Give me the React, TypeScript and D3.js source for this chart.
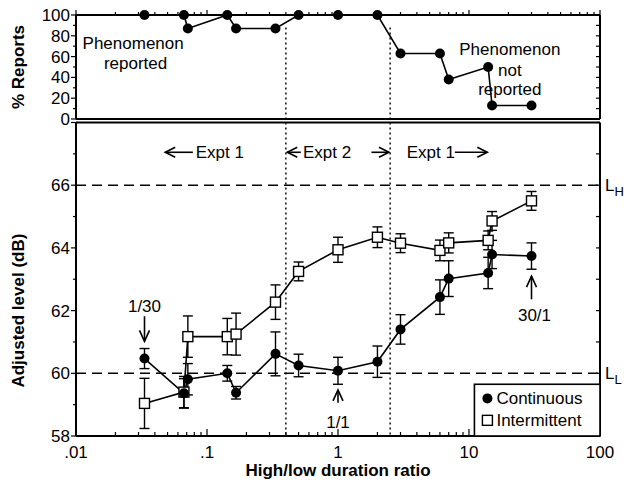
import * as d3 from 'd3'

const ratios = [1 / 30, 1 / 15, 1 / 14, 1 / 7, 1 / 6, 1 / 3, 1 / 2, 1, 2, 3, 6, 7, 14, 15, 30]
const reports = [100, 100, 87, 100, 87, 87, 100, 100, 100, 63, 63, 38, 50, 13, 13]
const continuous = [60.47, 59.36, 59.81, 60.0, 59.38, 60.62, 60.25, 60.08, 60.37, 61.4, 62.43, 63.02, 63.2, 63.79, 63.74]
const continuousErr = [0.32, 0.47, 0.5, 0.25, 0.2, 0.7, 0.36, 0.43, 0.5, 0.47, 0.55, 0.57, 0.5, 0.45, 0.42]
const intermittent = [59.04, 59.4, 61.17, 61.17, 61.25, 62.27, 63.25, 63.94, 64.34, 64.15, 63.92, 64.16, 64.24, 64.86, 65.5]
const intermittentErr = [0.8, 0.5, 0.66, 0.58, 0.67, 0.55, 0.3, 0.4, 0.33, 0.3, 0.33, 0.32, 0.3, 0.3, 0.3]
const xTicks = [0.01, 0.1, 1, 10, 100]
const xTickLabels = ['.01', '.1', '1', '10', '100']
const reportTicks = [0, 20, 40, 60, 80, 100]
const levelTicks = [58, 60, 62, 64, 66]
const exptBounds = [0.4, 2.5]
const refLevels = [60, 66]

const W = 629
const H = 485
const font = '"Liberation Sans", Arial, sans-serif'

export default function App() {
  const x = d3.scaleLog().domain([0.01, 100]).range([76, 600])
  const yTop = d3.scaleLinear().domain([0, 100]).range([119, 15])
  const yBot = d3.scaleLinear().domain([58, 68]).range([436, 122.5])

  const minorX: number[] = []
  for (let p = -2; p < 2; p++) {
    for (let k = 2; k <= 9; k++) minorX.push(k * Math.pow(10, p))
  }
  const topLine = d3.line<number>().x((_, i) => x(ratios[i])).y((d) => yTop(d))
  const botLine = d3.line<number>().x((_, i) => x(ratios[i])).y((d) => yBot(d))

  const errBars = (vals: number[], errs: number[]) =>
    vals.map((v, i) => {
      const cx = x(ratios[i])
      const y1 = yBot(v + errs[i])
      const y2 = yBot(v - errs[i])
      return (
        <g key={i}>
          <line x1={cx} x2={cx} y1={y1} y2={y2} />
          <line x1={cx - 5} x2={cx + 5} y1={y1} y2={y1} />
          <line x1={cx - 5} x2={cx + 5} y1={y2} y2={y2} />
        </g>
      )
    })

  const arrow = (cx: number, tip: number, tail: number) => {
    const dir = tail > tip ? 1 : -1
    return (
      <g stroke="#000" strokeWidth={1.6} fill="none">
        <line x1={cx} x2={cx} y1={tip} y2={tail} />
        <polyline points={`${cx - 5},${tip + dir * 11} ${cx},${tip} ${cx + 5},${tip + dir * 11}`} />
      </g>
    )
  }

  const hArrow = (x1: number, x2: number, y: number) => {
    const dir = x2 > x1 ? -1 : 1
    return (
      <g stroke="#000" strokeWidth={1.6} fill="none">
        <line x1={x1} x2={x2} y1={y} y2={y} />
        <polyline points={`${x2 + dir * 10},${y - 5} ${x2},${y} ${x2 + dir * 10},${y + 5}`} />
      </g>
    )
  }

  const exptY = yBot(67.05)

  return (
    <svg width={W} height={H} style={{ position: 'absolute', left: 0, top: 0, background: '#fff' }} fontFamily={font}>
      <rect width={W} height={H} fill="#fff" />

      {/* top panel frame */}
      <g stroke="#000" strokeWidth={2} fill="none">
        <line x1={x(0.01)} x2={x(100)} y1={yTop(100)} y2={yTop(100)} />
        <line x1={x(0.01)} x2={x(100)} y1={yTop(0)} y2={yTop(0)} />
        <line x1={x(0.01)} x2={x(0.01)} y1={yTop(100)} y2={yTop(0)} />
        <line x1={x(100)} x2={x(100)} y1={yTop(100)} y2={yTop(0)} />
      </g>
      {/* bottom panel frame */}
      <g stroke="#000" strokeWidth={2} fill="none">
        <line x1={x(0.01)} x2={x(100)} y1={yBot(68)} y2={yBot(68)} />
        <line x1={x(0.01)} x2={x(100)} y1={yBot(58)} y2={yBot(58)} />
        <line x1={x(0.01)} x2={x(0.01)} y1={yBot(68)} y2={yBot(58)} />
        <line x1={x(100)} x2={x(100)} y1={yBot(68)} y2={yBot(58)} />
      </g>

      {/* ticks */}
      <g stroke="#000" strokeWidth={1.2}>
        {minorX.map((v) => (
          <g key={v}>
            <line x1={x(v)} x2={x(v)} y1={yBot(58)} y2={yBot(58) - 4} />
            <line x1={x(v)} x2={x(v)} y1={yTop(100)} y2={yTop(100) - 3} />
          </g>
        ))}
        {xTicks.map((v) => (
          <g key={v}>
            <line x1={x(v)} x2={x(v)} y1={yBot(58)} y2={yBot(58) - 7} />
            <line x1={x(v)} x2={x(v)} y1={yTop(100)} y2={yTop(100) - 5} />
          </g>
        ))}
        {d3.range(0, 101, 10).map((v) => (
          <g key={v}>
            <line x1={x(0.01)} x2={x(0.01) - (v % 20 === 0 ? 5 : 3)} y1={yTop(v)} y2={yTop(v)} />
            <line x1={x(100)} x2={x(100) - 4} y1={yTop(v)} y2={yTop(v)} />
          </g>
        ))}
        {d3.range(58, 68.1, 1).map((v) => (
          <g key={v}>
            <line x1={x(0.01)} x2={x(0.01) - (v % 2 === 0 ? 5 : 3)} y1={yBot(v)} y2={yBot(v)} />
            <line x1={x(100)} x2={x(100) - 4} y1={yBot(v)} y2={yBot(v)} />
          </g>
        ))}
      </g>

      {/* tick labels */}
      <g fontSize={17} fill="#000">
        {reportTicks.map((v) => (
          <text key={v} x={x(0.01) - 6} y={yTop(v)} dy="0.35em" textAnchor="end">{v}</text>
        ))}
        {levelTicks.map((v) => (
          <text key={v} x={x(0.01) - 6} y={yBot(v)} dy="0.35em" textAnchor="end">{v}</text>
        ))}
        {xTicks.map((v, i) => (
          <text key={v} x={x(v)} y={yBot(58) + 16} dy="0.35em" textAnchor="middle">{xTickLabels[i]}</text>
        ))}
      </g>

      {/* axis titles */}
      <g fontSize={17} fontWeight="bold" fill="#000" textAnchor="middle">
        <text transform={`translate(24,${yTop(50)}) rotate(-90)`}>% Reports</text>
        <text transform={`translate(24,${yBot(62)}) rotate(-90)`}>Adjusted level (dB)</text>
        <text x={x(1)} y={yBot(58) + 40}>High/low duration ratio</text>
      </g>

      {/* reference lines */}
      <g stroke="#000" strokeWidth={1.6} strokeDasharray="10,6">
        {refLevels.map((v) => (
          <line key={v} x1={x(0.01)} x2={x(100)} y1={yBot(v)} y2={yBot(v)} />
        ))}
      </g>
      <g stroke="#000" strokeWidth={1.4} strokeDasharray="2,3">
        {exptBounds.map((v) => (
          <g key={v}>
            <line x1={x(v)} x2={x(v)} y1={yTop(88)} y2={yTop(0)} />
            <line x1={x(v)} x2={x(v)} y1={yBot(68)} y2={yBot(58)} />
          </g>
        ))}
      </g>
      <g fontSize={17} fill="#000">
        <text x={x(100) + 5} y={yBot(66)} dy="0.35em">L<tspan fontSize={13} dy="5">H</tspan></text>
        <text x={x(100) + 5} y={yBot(60)} dy="0.35em">L<tspan fontSize={13} dy="5">L</tspan></text>
      </g>

      {/* top panel data */}
      <path d={topLine(reports) || ''} fill="none" stroke="#000" strokeWidth={1.6} />
      {reports.map((v, i) => (
        <circle key={i} cx={x(ratios[i])} cy={yTop(v)} r={5} fill="#000" />
      ))}
      <g fontSize={17} fill="#000" textAnchor="middle">
        <text x={x(0.0273)} y={yTop(73)} dy="0.35em">Phenomenon</text>
        <text x={x(0.0285)} y={yTop(54)} dy="0.35em">reported</text>
        <text x={x(20.5)} y={yTop(67)} dy="0.35em">Phenomenon</text>
        <text x={x(20.5)} y={yTop(47)} dy="0.35em">not</text>
        <text x={x(20.5)} y={yTop(28.5)} dy="0.35em">reported</text>
      </g>

      {/* bottom panel data */}
      <g stroke="#000" strokeWidth={1.4}>{errBars(intermittent, intermittentErr)}</g>
      <g stroke="#000" strokeWidth={1.4}>{errBars(continuous, continuousErr)}</g>
      <path d={botLine(intermittent) || ''} fill="none" stroke="#000" strokeWidth={1.6} />
      <path d={botLine(continuous) || ''} fill="none" stroke="#000" strokeWidth={1.6} />
      {intermittent.map((v, i) => (
        <rect key={i} x={x(ratios[i]) - 5} y={yBot(v) - 5} width={10} height={10} fill="#fff" stroke="#000" strokeWidth={1.4} />
      ))}
      {continuous.map((v, i) => (
        <circle key={i} cx={x(ratios[i])} cy={yBot(v)} r={5} fill="#000" />
      ))}

      {/* annotations */}
      <g fontSize={17} fill="#000" textAnchor="middle">
        <text x={x(1 / 30)} y={yBot(62.15)} dy="0.35em">1/30</text>
        <text x={x(1)} y={yBot(58.43)} dy="0.35em">1/1</text>
        <text x={x(30) + 3} y={yBot(61.86)} dy="0.35em">30/1</text>
      </g>
      {arrow(x(1 / 30), yBot(61.02), yBot(61.82))}
      {arrow(x(1), yBot(59.47), yBot(59.06))}
      {arrow(x(30), yBot(63.1), yBot(62.36))}

      {/* experiment labels */}
      <g fontSize={17} fill="#000">
        <text x={x(0.082)} y={exptY} dy="0.35em">Expt 1</text>
        <text x={x(0.54)} y={exptY} dy="0.35em">Expt 2</text>
        <text x={x(3.35)} y={exptY} dy="0.35em">Expt 1</text>
      </g>
      {hArrow(x(0.078), x(0.048), exptY)}
      {hArrow(x(0.52), x(0.41), exptY)}
      {hArrow(x(1.8), x(2.45), exptY)}
      {hArrow(x(7.8), x(13.8), exptY)}

      {/* legend */}
      <rect x={x(11)} y={yBot(59.65)} width={x(100) - x(11)} height={yBot(58) - yBot(59.65)} fill="#fff" stroke="#000" strokeWidth={1.6} />
      <circle cx={x(11) + 13} cy={yBot(59.2)} r={5} fill="#000" />
      <text x={x(11) + 22} y={yBot(59.2)} dy="0.35em" fontSize={17}>Continuous</text>
      <rect x={x(11) + 8} y={yBot(58.5) - 5} width={10} height={10} fill="#fff" stroke="#000" strokeWidth={1.4} />
      <text x={x(11) + 22} y={yBot(58.5)} dy="0.35em" fontSize={17}>Intermittent</text>
    </svg>
  )
}
